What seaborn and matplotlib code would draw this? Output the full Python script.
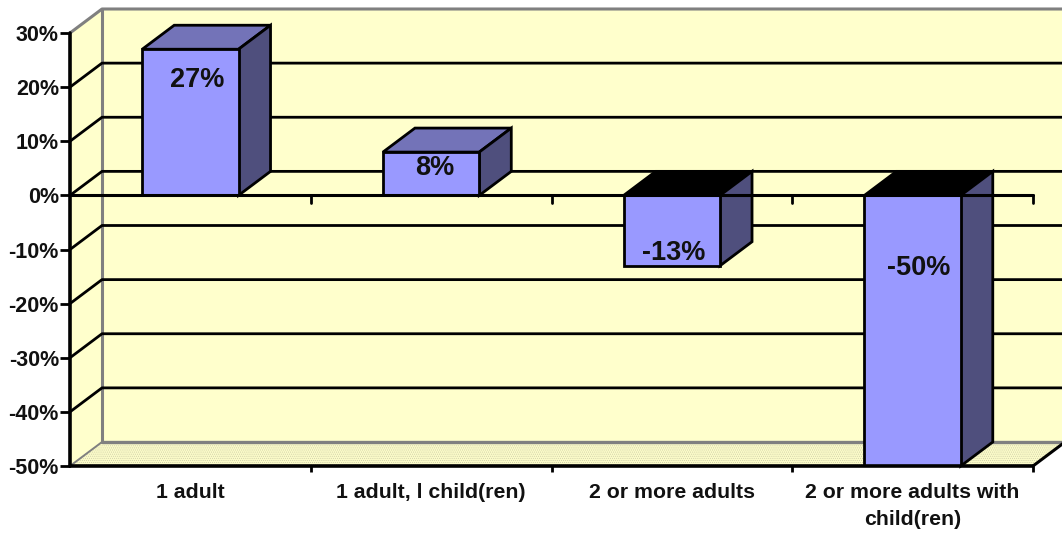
import matplotlib
matplotlib.use("Agg")
import matplotlib.pyplot as plt
from matplotlib.patches import Polygon
import pandas as pd
import seaborn as sns

# Household types and the change for each one, in percent
categories = ["1 adult", "1 adult, l child(ren)", "2 or more adults",
              "2 or more adults with\nchild(ren)"]
values = [27, 8, -13, -50]
value_labels = ["27%", "8%", "-13%", "-50%"]
y_ticks = [30, 20, 10, 0, -10, -20, -30, -40, -50]

WALL = "#ffffcc"
FLOOR = "#fbfbc9"
STIPPLE = "#c9c9a4"
FRONT = "#9999ff"
TOP = "#7373b8"
SIDE = "#4f4f7d"
EDGE = "#808080"
LW = 2.0

sns.set_theme(style="white")
plt.rcParams["font.family"] = ["Liberation Sans", "DejaVu Sans"]
plt.rcParams["hatch.linewidth"] = 0.4

W, H = 1062, 535
fig = plt.figure(figsize=(W / 100, H / 100), dpi=100, facecolor="white")
ax = fig.add_axes([70 / W, (H - 466) / H, 963 / W, 433 / H])
ax.patch.set_visible(False)

df = pd.DataFrame({"category": categories, "value": values})
sns.barplot(data=df, x="category", y="value", color=FRONT, saturation=1,
            width=0.4, edgecolor="black", linewidth=LW, ax=ax)
bars = list(ax.patches)
ax.set_xlim(-0.5, 3.5)
ax.set_ylim(-50, 30)
ax.set_xlabel("")
ax.set_ylabel("")

# Oblique depth of the pseudo-3D box, in data units
dx = 32 / (963 / 4)
dy = 24 / (433 / 80)
x0, x1 = -0.5, 3.5
y0, y1 = -50, 30


def face(points, color, z, edge="none", lw=0, **kw):
    ax.add_patch(Polygon(points, closed=True, facecolor=color, edgecolor=edge,
                         linewidth=lw, zorder=z, clip_on=False, **kw))


# Walls and stippled floor
face([(x0, y0), (x0 + dx, y0 + dy), (x0 + dx, y1 + dy), (x0, y1)], WALL, 0.5)
face([(x0 + dx, y0 + dy), (x1 + dx, y0 + dy), (x1 + dx, y1 + dy), (x0 + dx, y1 + dy)], WALL, 0.5)
floor_pts = [(x0, y0), (x1, y0), (x1 + dx, y0 + dy), (x0 + dx, y0 + dy)]
face(floor_pts, FLOOR, 0.6)
ax.add_patch(Polygon(floor_pts, closed=True, fill=False, edgecolor=STIPPLE, linewidth=0,
                     hatch="........", zorder=0.7, clip_on=False))

# Grey outline of the box
grey = dict(color=EDGE, clip_on=False, zorder=0.9, solid_capstyle="round")
ax.plot([x0, x0 + dx, x1 + dx], [y1, y1 + dy, y1 + dy], lw=2.2, **grey)
ax.plot([x0 + dx, x0 + dx], [y1 + dy, y0 + dy], lw=2.2, **grey)
ax.plot([x0, x0 + dx], [y0, y0 + dy], lw=1.4, **grey)
ax.plot([x0 + dx, x1 + dx], [y0 + dy, y0 + dy], lw=2.4, **grey)

# Gridlines wrapping over the left wall and the back wall
for t in y_ticks[1:-1]:
    ax.plot([x0, x0 + dx, x1 + dx], [t, t + dy, t + dy], color="black", lw=LW,
            clip_on=False, zorder=1)

# Depth faces of each bar
for bar, v in zip(bars, values):
    bl = bar.get_x()
    br = bl + bar.get_width()
    top = max(v, 0)
    bottom = min(v, 0)
    top_color = TOP if v > 0 else "black"
    face([(bl, top), (br, top), (br + dx, top + dy), (bl + dx, top + dy)], top_color, 3,
         edge="black", lw=LW)
    face([(br, bottom), (br + dx, bottom + dy), (br + dx, top + dy), (br, top)], SIDE, 3,
         edge="black", lw=LW)
    bar.set_zorder(4)

# Axis lines along the zero level and the base
ax.plot([x0, x1], [0, 0], color="black", lw=2.2, zorder=5, clip_on=False)
ax.plot([x0, x1], [y0, y0], color="black", lw=2.6, zorder=5, clip_on=False)
ax.plot([x1, x1 + dx], [y0, y0 + dy], color="black", lw=2.2, zorder=0.95, clip_on=False)
ax.plot([x0, x0], [y0, y1], color="black", lw=2.6, zorder=5, clip_on=False)
for k in range(1, 5):
    ax.plot([x0 + k, x0 + k], [0, -1.4], color="black", lw=LW, zorder=5, clip_on=False)

for s in ax.spines.values():
    s.set_visible(False)

ax.set_yticks(y_ticks)
ax.set_yticklabels([f"{t}%" for t in y_ticks], fontsize=15.5, fontweight="bold", color="#111111")
ax.tick_params(axis="y", left=True, length=7, width=LW, color="black", pad=1)
ax.set_xticks(range(4))
ax.set_xticklabels(categories, fontsize=15.3, fontweight="bold", color="#111111", linespacing=1.58)
ax.tick_params(axis="x", bottom=False, length=0, pad=12)
ax.set_xticks([x0 + k for k in range(1, 5)], minor=True)
ax.tick_params(axis="x", which="minor", bottom=True, length=4.5, width=LW, color="black")

# Value labels, placed inside each bar
label_offsets = [(7, -31), (4, -16), (2, 13), (6, 198)]
for bar, v, text, (ox, oy) in zip(bars, values, value_labels, label_offsets):
    ax.annotate(text, xy=(bar.get_x() + bar.get_width() / 2, v),
                xytext=(ox * 0.72, oy * 0.72), textcoords="offset points",
                ha="center", va="center", fontsize=19.5, fontweight="bold",
                color="#111111", zorder=6)

fig.savefig("out.png", dpi=100)
